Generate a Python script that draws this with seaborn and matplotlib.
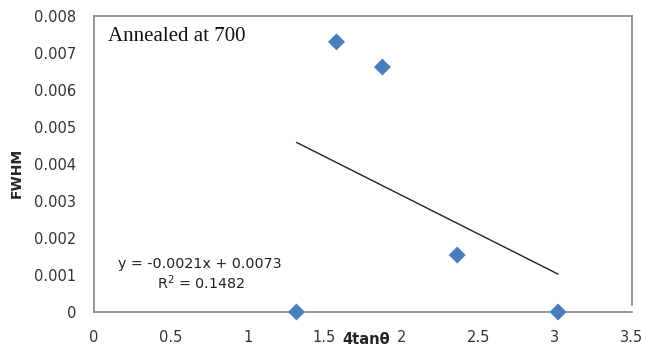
import numpy as np
import pandas as pd
import matplotlib.pyplot as plt
import seaborn as sns

# values
x_vals = [1.318, 1.578, 1.877, 2.364, 3.02]
fwhm_vals = [0.0, 0.0073, 0.00662, 0.00154, 0.0]
x_ticks = [0, 0.5, 1, 1.5, 2, 2.5, 3, 3.5]
y_ticks = [0, 0.001, 0.002, 0.003, 0.004, 0.005, 0.006, 0.007, 0.008]
title_text = 'Annealed at 700'
eq_text = 'y = -0.0021x + 0.0073'
r2_text = 'R$^2$ = 0.1482'

df = pd.DataFrame({'x': x_vals, 'fwhm': fwhm_vals})

sns.set_style('white')
plt.rcParams['font.family'] = ['DejaVu Sans']

fig = plt.figure(figsize=(6.46, 3.47), dpi=100)
ax = fig.add_axes([0.1455, 0.1009, 0.8325, 0.8530])

# linear trendline over the data range
sns.regplot(data=df, x='x', y='fwhm', scatter=False, ci=None, truncate=True,
            line_kws={'color': '#222222', 'lw': 1.0}, ax=ax)
sns.scatterplot(data=df, x='x', y='fwhm', marker='D', s=75, color='#4A7EBB',
                edgecolor='none', zorder=5, clip_on=False, ax=ax)

ax.set_xlim(0, 3.5)
ax.set_ylim(0, 0.008)
ax.set_xticks(x_ticks)
ax.set_xticklabels(['0', '0.5', '1', '1.5', '2', '2.5', '3', '3.5'])
ax.set_yticks(y_ticks)
ax.set_yticklabels(['0', '0.001', '0.002', '0.003', '0.004', '0.005', '0.006', '0.007', '0.008'])
ax.tick_params(axis='both', direction='out', length=5, width=1, color='#868686',
               labelsize=10.5, labelcolor='#333333')
ax.tick_params(axis='y', pad=8)
ax.tick_params(axis='x', pad=8)

for s in ['left', 'bottom', 'top', 'right']:
    ax.spines[s].set_color('#868686')
    ax.spines[s].set_linewidth(1.2)
ax.spines['right'].set_bounds(0.0002, 0.008)

ax.set_xlabel('4tanθ', fontsize=10.5, fontweight='bold')
ax.xaxis.set_label_coords(0.507, -0.066)
ax.set_ylabel('FWHM', fontsize=10, fontweight='bold')
ax.yaxis.set_label_coords(-0.13, 0.47)

ax.text(0.026, 0.93, title_text, transform=ax.transAxes, fontsize=15,
        family=['Liberation Serif'], ha='left', va='center', color='#111111')
ax.text(0.045, 0.163, eq_text, transform=ax.transAxes, fontsize=10.3,
        ha='left', va='center', color='#222222')
ax.text(0.118, 0.098, r2_text, transform=ax.transAxes, fontsize=10.3,
        ha='left', va='center', color='#222222')

fig.savefig('out.png', dpi=100)
